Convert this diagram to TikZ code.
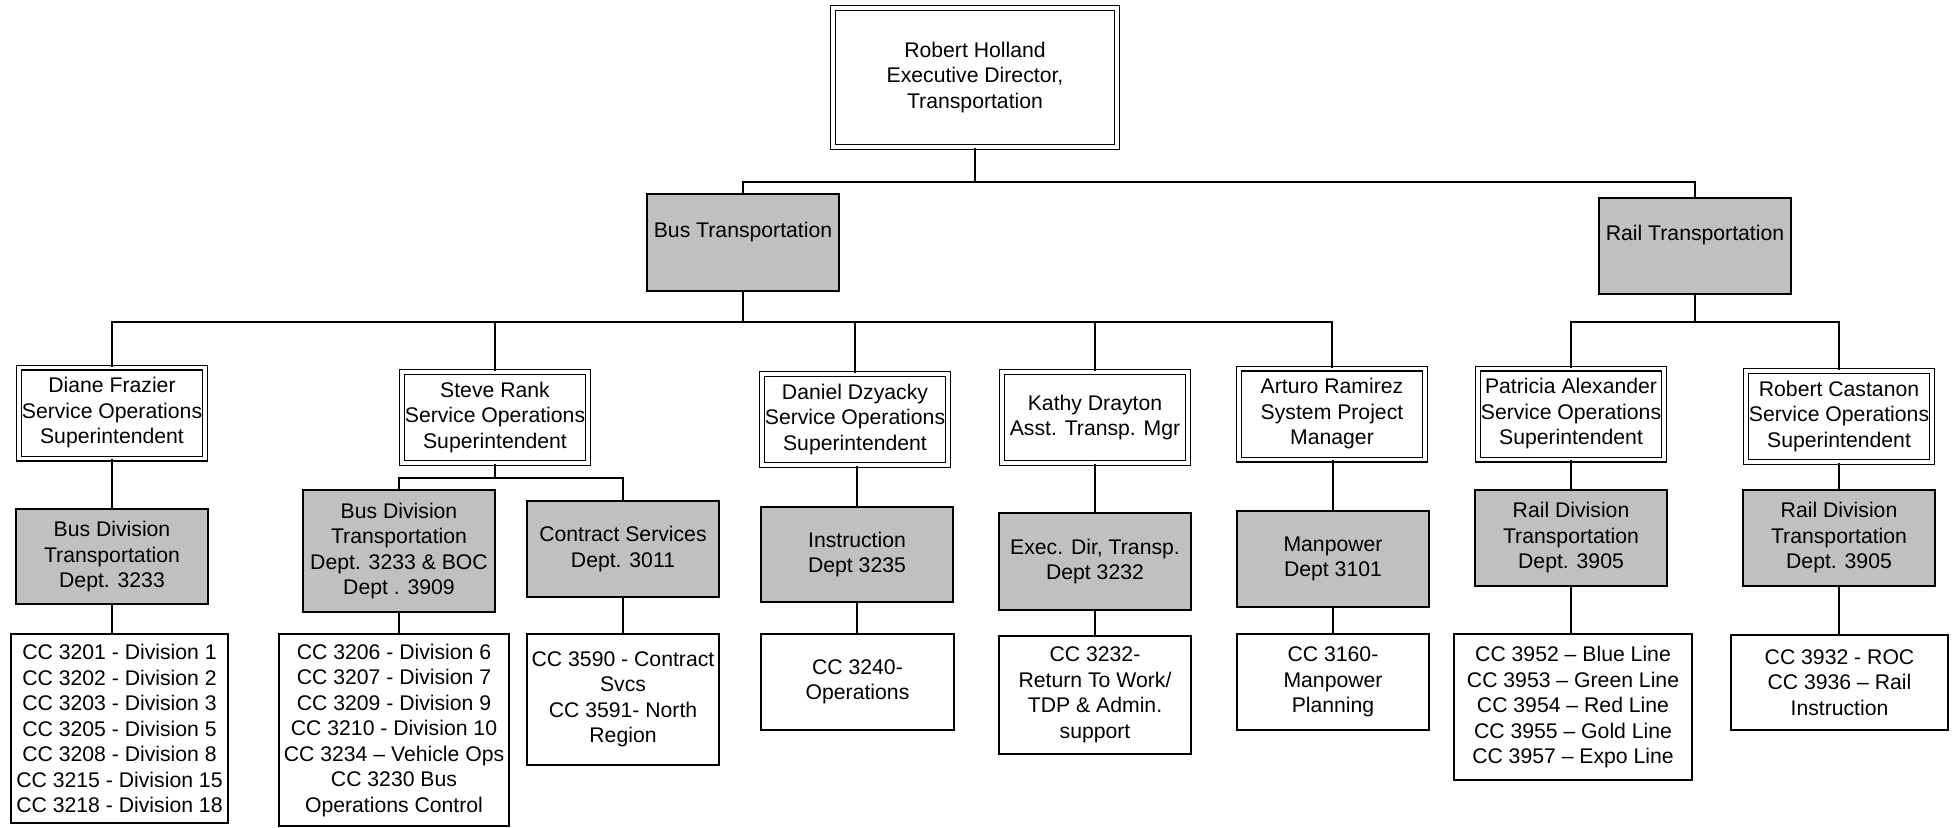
\documentclass[tikz,border=0pt]{standalone}
\usepackage{fontspec}
\setmainfont{Liberation Sans}
\definecolor{boxgray}{HTML}{C0C0C0}
\newcommand{\fs}{\fontsize{10.6pt}{12.75pt}\selectfont}
\begin{document}
\begin{tikzpicture}[x=0.5pt,y=-0.5pt,
  base/.style={draw, line width=0.6pt, rectangle, inner sep=0pt, align=center, font=\fs,
    execute at begin node={\rule{0pt}{10.4pt}}},
  person/.style={base, double, double distance=1.8pt, fill=white, minimum width=93pt, minimum height=45.5pt},
  grey/.style={base, fill=boxgray, minimum width=96pt, minimum height=48pt},
  cc/.style={base, fill=white},
  conn/.style={line width=0.65pt}]
\useasboundingbox (0,0) rectangle (1953,827);
% root
\node[person, minimum width=142pt, minimum height=69.5pt] (root) at (975,77.5) {Robert Holland\\Executive Director,\\Transportation};
\node[grey, minimum height=48.5pt] (bus) at (743,242.5) {Bus Transportation\\~};
\node[grey] (rail) at (1695,246) {Rail Transportation\\~};
% persons
\node[person] (diane) at (112,413) {Diane Frazier\\Service Operations\\Superintendent};
\node[person] (steve) at (495,417.5) {Steve Rank\\Service Operations\\Superintendent};
\node[person] (daniel) at (855,419.5) {Daniel Dzyacky\\Service Operations\\Superintendent};
\node[person] (kathy) at (1095,417.5) {Kathy Drayton\\Asst. Transp. Mgr};
\node[person] (arturo) at (1332,414) {Arturo Ramirez\\System Project\\Manager};
\node[person] (patricia) at (1571,414) {Patricia Alexander\\Service Operations\\Superintendent};
\node[person] (castanon) at (1839,416.5) {Robert Castanon\\Service Operations\\Superintendent};
% departments
\node[grey, minimum height=47.5pt] (bd1) at (112,556.5) {Bus Division\\Transportation\\Dept. 3233};
\node[grey, minimum height=61pt] (bd2) at (399,551) {Bus Division\\Transportation\\Dept. 3233 \& BOC\\Dept . 3909};
\node[grey] (contract) at (623,549) {Contract Services\\Dept. 3011};
\node[grey, minimum height=47.5pt] (instr) at (857,554.5) {Instruction\\Dept 3235};
\node[grey, minimum height=48.5pt] (execdir) at (1095,561.5) {Exec. Dir, Transp.\\Dept 3232};
\node[grey] (manpower) at (1333,559) {Manpower\\Dept 3101};
\node[grey] (rd1) at (1571,538) {Rail Division\\Transportation\\Dept. 3905};
\node[grey] (rd2) at (1839,538) {Rail Division\\Transportation\\Dept. 3905};
% cost centers
\node[cc, minimum width=108.5pt, minimum height=94.5pt] (cc1) at (119.5,728.5) {CC 3201 - Division 1\\CC 3202 - Division 2\\CC 3203 - Division 3\\CC 3205 - Division 5\\CC 3208 - Division 8\\CC 3215 - Division 15\\CC 3218 - Division 18};
\node[cc, minimum width=115pt, minimum height=96pt] (cc2) at (394,730) {CC 3206 - Division 6\\CC 3207 - Division 7\\CC 3209 - Division 9\\CC 3210 - Division 10\\CC 3234 – Vehicle Ops\\CC 3230 Bus\\Operations Control};
\node[cc, minimum width=96pt, minimum height=65.5pt] (cc3) at (623,699.5) {CC 3590 - Contract\\Svcs\\CC 3591- North\\Region};
\node[cc, minimum width=96.5pt, minimum height=48pt] (cc4) at (857.5,682) {CC 3240-\\Operations};
\node[cc, minimum width=96pt, minimum height=59pt] (cc5) at (1095,695) {CC 3232-\\Return To Work/\\TDP \& Admin.\\support};
\node[cc, minimum width=96pt, minimum height=48pt] (cc6) at (1333,682) {CC 3160-\\Manpower\\Planning};
\node[cc, minimum width=119pt, minimum height=73pt] (cc7) at (1573,707) {CC 3952 – Blue Line\\CC 3953 – Green Line\\CC 3954 – Red Line\\CC 3955 – Gold Line\\CC 3957 – Expo Line};
\node[cc, minimum width=108.5pt, minimum height=47.5pt] (cc8) at (1839.5,682.5) {CC 3932 - ROC\\CC 3936 – Rail\\Instruction};
% junction coordinates
\coordinate (j0) at (975,182);
\coordinate (j1) at (743,322);
\coordinate (j2) at (1695,322);
\coordinate (j3) at (495,478);
% connectors
\draw[conn] (root.south) -- (j0);
\draw[conn] (bus.north) |- (j0) -| (rail.north);
\draw[conn] (bus.south) -- (j1);
\draw[conn] (diane.north) |- (j1) -| (arturo.north);
\draw[conn] (steve.north) -- (steve.north |- j1);
\draw[conn] (daniel.north) -- (daniel.north |- j1);
\draw[conn] (kathy.north) -- (kathy.north |- j1);
\draw[conn] (rail.south) -- (j2);
\draw[conn] (patricia.north) |- (j2) -| (castanon.north);
\draw[conn] (diane.south) -- (bd1.north);
\draw[conn] (steve.south) -- (j3);
\draw[conn] (bd2.north) |- (j3) -| (contract.north);
\draw[conn] (bd1.south) -- (bd1.south |- cc1.north);
\draw[conn] (bd2.south) -- (bd2.south |- cc2.north);
\draw[conn] (contract.south) -- (cc3.north);
\draw[conn] (instr.north) -- (instr.north |- daniel.south);
\draw[conn] (instr.south) -- (instr.south |- cc4.north);
\draw[conn] (kathy.south) -- (execdir.north);
\draw[conn] (execdir.south) -- (cc5.north);
\draw[conn] (manpower.north) -- (manpower.north |- arturo.south);
\draw[conn] (manpower.south) -- (cc6.north);
\draw[conn] (patricia.south) -- (rd1.north);
\draw[conn] (rd1.south) -- (rd1.south |- cc7.north);
\draw[conn] (castanon.south) -- (rd2.north);
\draw[conn] (rd2.south) -- (rd2.south |- cc8.north);
\end{tikzpicture}
\end{document}
